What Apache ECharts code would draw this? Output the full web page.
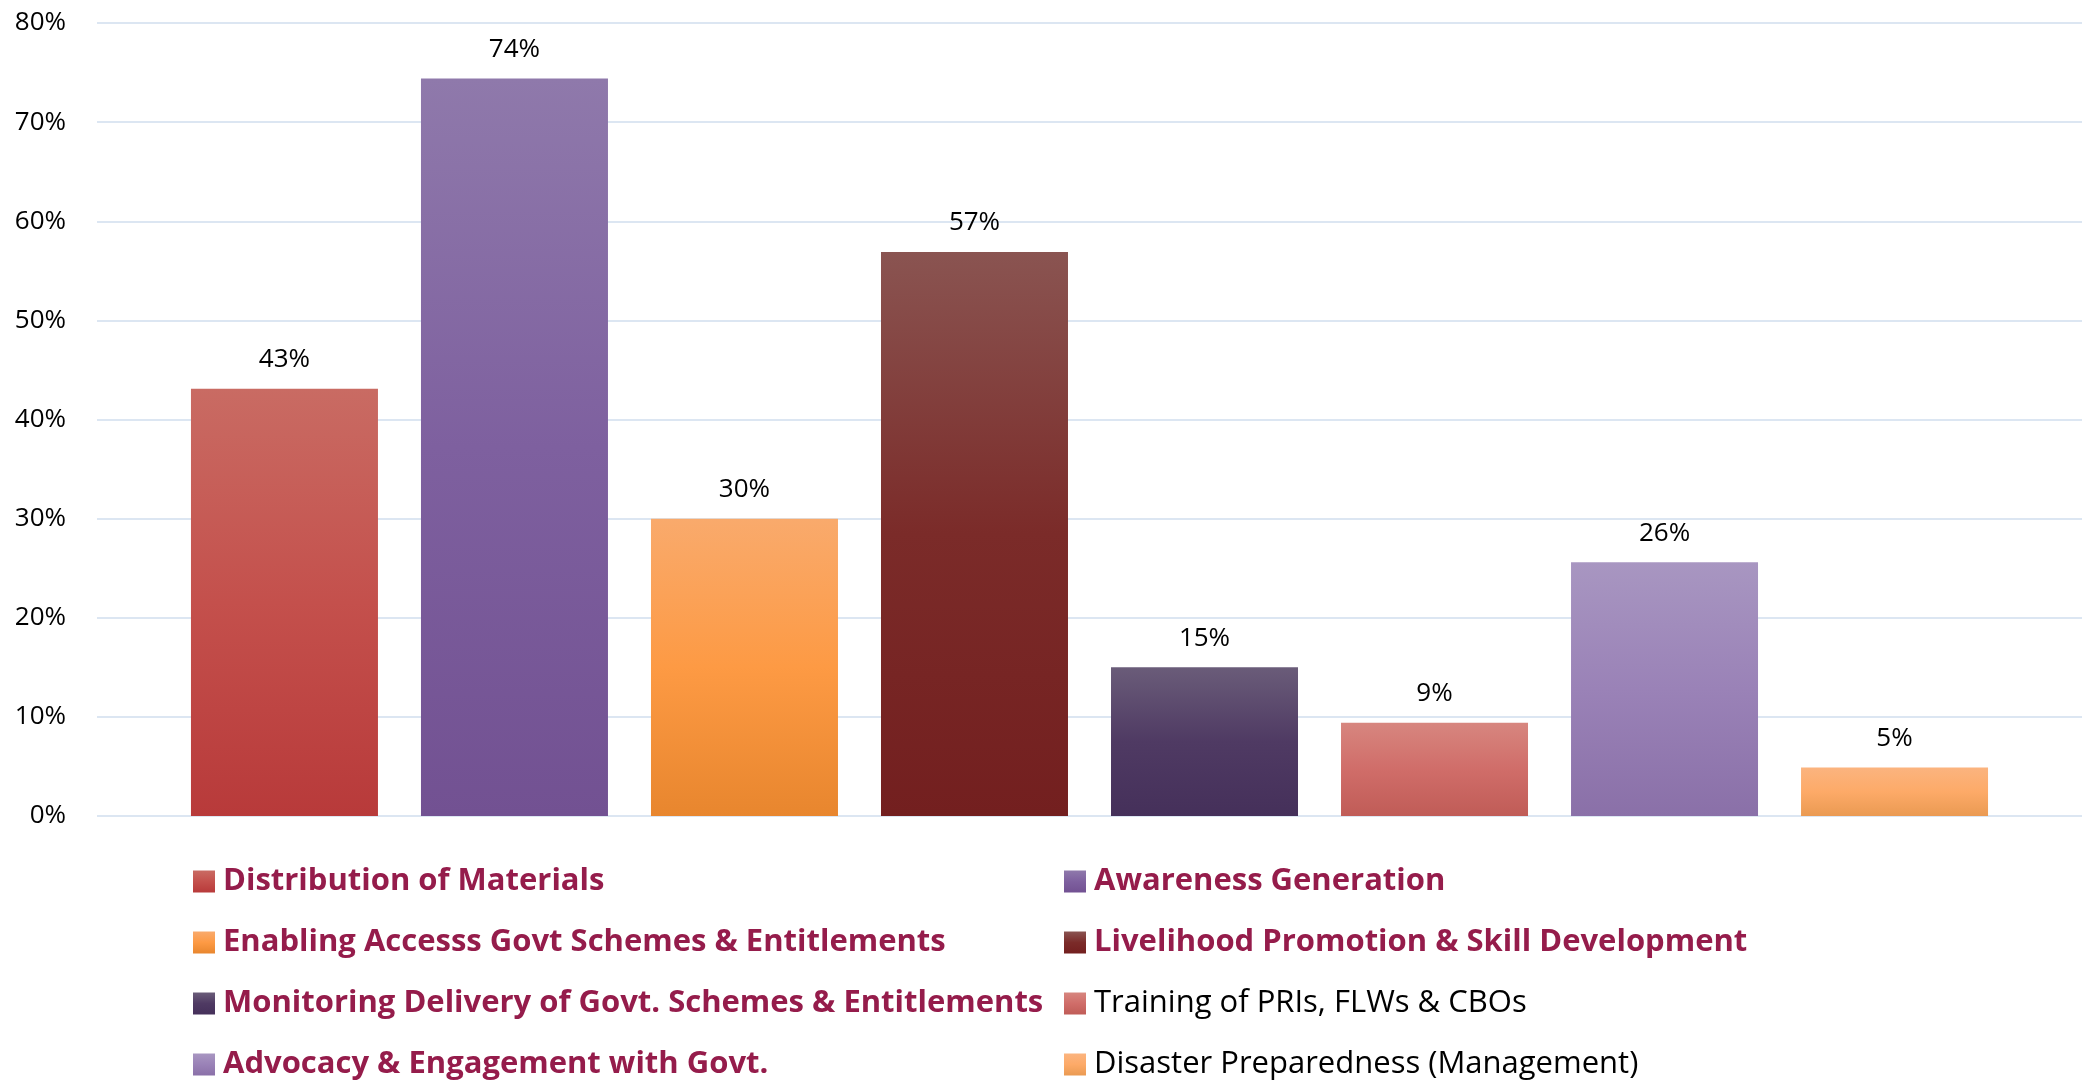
<!DOCTYPE html>
<html>
<head>
<meta charset="utf-8">
<script src="https://cdn.jsdelivr.net/npm/echarts@6/dist/echarts.min.js"></script>
<style>
  html, body { margin: 0; padding: 0; background: #fff; }
  #chart { width: 2082px; height: 1080px; }
</style>
</head>
<body>
<div id="chart"></div>
<script>
var categories = [''];
var seriesNames = [
    'Distribution of Materials',
    'Awareness Generation',
    'Enabling Accesss Govt Schemes & Entitlements',
    'Livelihood Promotion & Skill Development',
    'Monitoring Delivery of Govt. Schemes & Entitlements',
    'Training of PRIs, FLWs & CBOs',
    'Advocacy & Engagement with Govt.',
    'Disaster Preparedness (Management)'
];
var values = [43.1, 74.4, 30.0, 56.9, 15.0, 9.4, 25.6, 4.9];
var yMin = 0, yMax = 80, yStep = 10;

// gradient top / middle / bottom for each bar
var topColors = ['#C96B63', '#8F79AB', '#F9AA6C', '#8A5451', '#6A5C79', '#D7867F', '#A896C1', '#FBB47F'];
var midColors = ['#C4504C', '#7E609F', '#FD9A44', '#7B2B29', '#4F3A63', '#D06D69', '#9A82B7', '#FDAA68'];
var bottomColors = ['#B83A3A', '#725192', '#E8862E', '#731F1F', '#45305A', '#C05C57', '#8A70A8', '#EA9A52'];
var boldItems = [true, true, true, true, true, false, true, false];

var font = '"Open Sans", Lato, sans-serif';

var series = seriesNames.map(function (name, i) {
    return {
        name: name,
        type: 'bar',
        barWidth: 187,
        barGap: '23%',
        data: [values[i]],
        itemStyle: {
            color: new echarts.graphic.LinearGradient(0, 0, 0, 1, [
                { offset: 0, color: topColors[i] },
                { offset: 0.5, color: midColors[i] },
                { offset: 1, color: bottomColors[i] }
            ])
        },
        label: {
            show: true,
            position: 'top',
            distance: 16,
            color: '#000',
            fontFamily: font,
            fontSize: 26,
            formatter: function (p) { return Math.round(p.value) + '%'; }
        }
    };
});

function legendData(idx) {
    return idx.map(function (i) {
        return {
            name: seriesNames[i],
            textStyle: boldItems[i]
                ? { color: '#951C4B', fontWeight: 'bold' }
                : { color: '#000', fontWeight: 'normal' }
        };
    });
}

var legendBase = {
    orient: 'vertical',
    top: 866,
    padding: 0,
    icon: 'rect',
    itemWidth: 22,
    itemHeight: 22,
    itemGap: 30,
    selectedMode: false,
    textStyle: { fontFamily: font, fontSize: 31, lineHeight: 31, padding: [0, 0, 0, 3] }
};

var option = {
    animation: false,
    backgroundColor: '#fff',
    grid: { left: 97, right: 0, top: 23, bottom: 264, containLabel: false },
    legend: [
        Object.assign({}, legendBase, { left: 193, data: legendData([0, 2, 4, 6]) }),
        Object.assign({}, legendBase, { left: 1064, data: legendData([1, 3, 5, 7]) })
    ],
    xAxis: {
        type: 'category',
        data: categories,
        axisLine: { show: false },
        axisTick: { show: false },
        axisLabel: { show: false }
    },
    yAxis: {
        type: 'value',
        min: yMin,
        max: yMax,
        interval: yStep,
        axisLine: { show: false },
        axisTick: { show: false },
        axisLabel: {
            formatter: '{value}%',
            color: '#000',
            fontFamily: font,
            fontSize: 26,
            margin: 31
        },
        splitLine: { lineStyle: { color: '#DCE6F2', width: 2 } }
    },
    series: series
};

var myChart = echarts.init(document.getElementById('chart'));
myChart.setOption(option);
window.addEventListener('resize', function () {
    myChart.resize();
});
</script>
</body>
</html>
